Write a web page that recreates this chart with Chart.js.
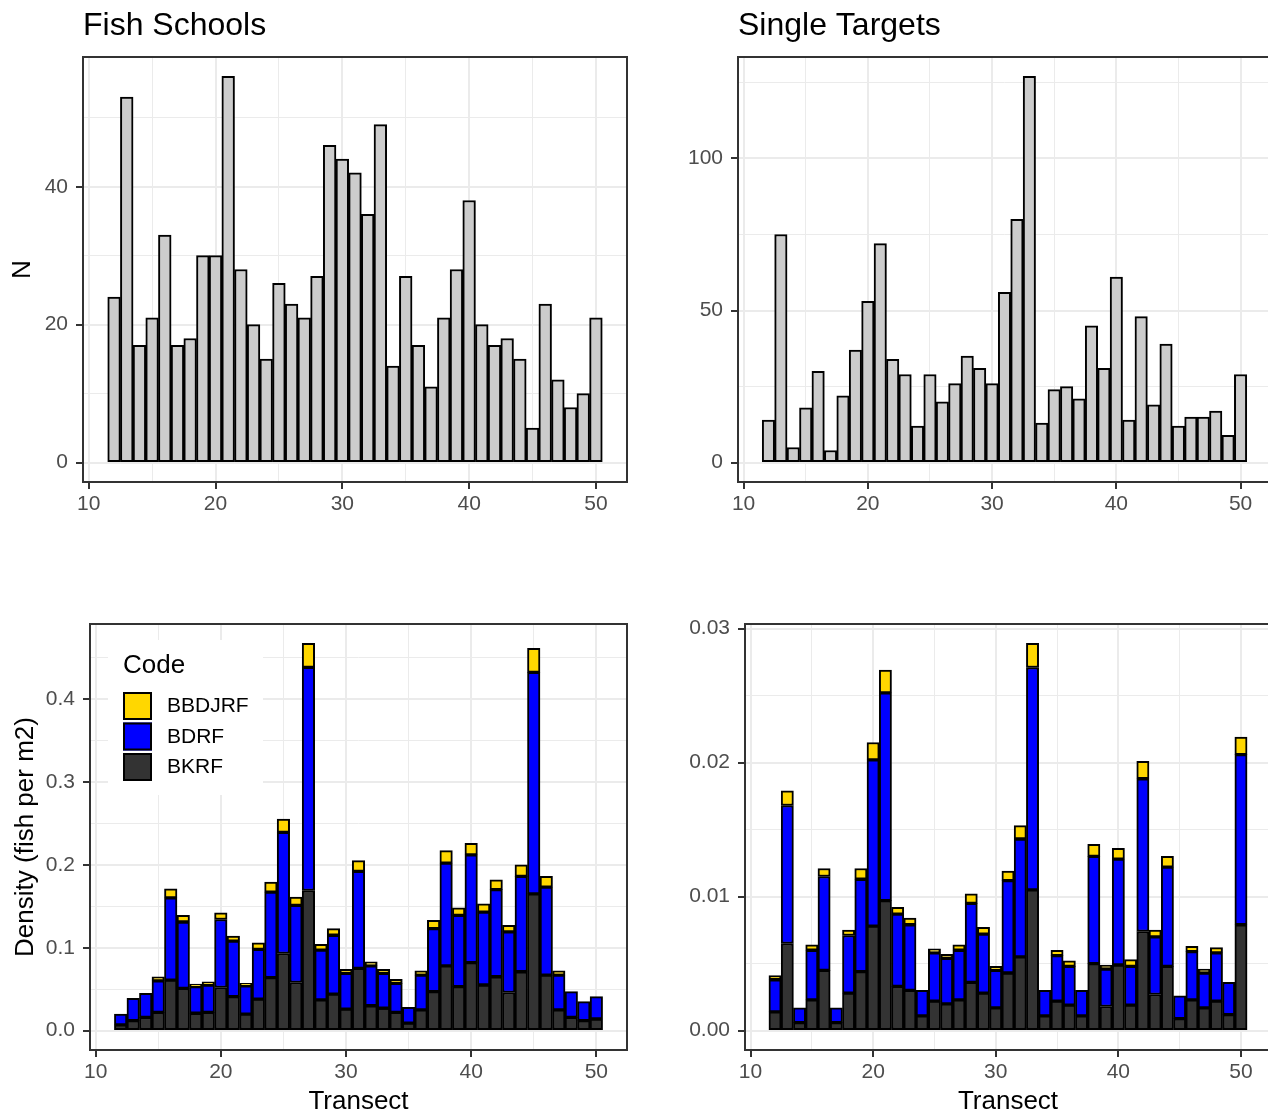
<!DOCTYPE html>
<html>
<head>
<meta charset="utf-8">
<title>Fish Schools / Single Targets</title>
<script src="https://cdn.jsdelivr.net/npm/chart.js@4.4.1/dist/chart.umd.min.js"></script>
<style>
  html, body { margin: 0; padding: 0; background: #fff; overflow: hidden; width: 1268px; height: 1113px; }
  canvas { position: absolute; }
</style>
</head>
<body>
<canvas id="schoolsN"></canvas>
<canvas id="targetsN"></canvas>
<canvas id="schoolsDen"></canvas>
<canvas id="targetsDen"></canvas>
<script>
// transect numbers on the x axis
var transects = [12,13,14,15,16,17,18,19,20,21,22,23,24,25,26,27,28,29,30,31,
                 32,33,34,35,36,37,38,39,40,41,42,43,44,45,46,47,48,49,50];

// counts (top row)
var schoolCount = [24,53,17,21,33,17,18,30,30,56,28,20,15,26,23,21,27,46,44,42,
                   36,49,14,27,17,11,21,28,38,20,17,18,15,5,23,12,8,10,21];
var targetCount = [14,75,5,18,30,4,22,37,53,72,34,29,12,29,20,26,35,31,26,56,
                   80,127,13,24,25,21,45,31,61,14,48,19,39,12,15,15,17,9,29];

// density by species code (bottom row), stacked bottom -> top
var codes = ['BKRF', 'BDRF', 'BBDJRF'];
var codeColors = ['#333333', '#0000ff', '#ffd700'];

var schoolBKRF = [0.007,0.012,0.016,0.022,0.061,0.051,0.021,0.022,0.052,0.041,0.020,0.038,0.064,0.093,0.058,0.169,0.037,0.044,0.026,0.075,
                  0.030,0.027,0.022,0.009,0.025,0.047,0.078,0.053,0.082,0.055,0.065,0.046,0.071,0.165,0.067,0.025,0.016,0.012,0.014];
var schoolBDRF = [0.013,0.027,0.029,0.038,0.099,0.080,0.032,0.033,0.082,0.067,0.034,0.060,0.103,0.146,0.093,0.269,0.060,0.071,0.043,0.117,
                  0.048,0.042,0.035,0.019,0.042,0.076,0.124,0.086,0.130,0.088,0.105,0.073,0.115,0.267,0.106,0.042,0.031,0.023,0.027];
var schoolBBDJRF = [0,0,0,0.005,0.011,0.008,0.003,0.004,0.008,0.006,0.003,0.008,0.012,0.016,0.010,0.029,0.007,0.008,0.005,0.013,
                    0.005,0.005,0.005,0,0.005,0.010,0.015,0.009,0.014,0.010,0.012,0.008,0.014,0.029,0.013,0.005,0,0,0];

var targetBKRF = [0.0014,0.0065,0.0006,0.0023,0.0045,0.0006,0.0028,0.0044,0.0078,0.0097,0.0033,0.0030,0.0011,0.0022,0.0020,0.0023,0.0036,0.0028,0.0017,0.0043,
                  0.0055,0.0105,0.0011,0.0022,0.0019,0.0011,0.0050,0.0018,0.0049,0.0019,0.0074,0.0027,0.0048,0.0009,0.0023,0.0017,0.0022,0.0012,0.0079];
var targetBDRF = [0.0024,0.0103,0.0011,0.0037,0.0070,0.0011,0.0043,0.0069,0.0124,0.0155,0.0054,0.0049,0.0019,0.0036,0.0034,0.0037,0.0059,0.0044,0.0028,0.0069,
                  0.0088,0.0166,0.0019,0.0034,0.0029,0.0019,0.0080,0.0028,0.0079,0.0029,0.0114,0.0043,0.0074,0.0017,0.0036,0.0026,0.0036,0.0024,0.0127];
var targetBBDJRF = [0.0003,0.0011,0,0.0004,0.0006,0,0.0004,0.0008,0.0013,0.0017,0.0005,0.0005,0,0.0003,0.0003,0.0004,0.0007,0.0005,0.0003,0.0007,
                    0.0010,0.0018,0,0.0004,0.0004,0,0.0009,0.0003,0.0008,0.0005,0.0013,0.0005,0.0008,0,0.0004,0.0003,0.0004,0,0.0013];

// tick values / labels
var xMajor = [10,20,30,40,50];
var xLabels = ['10','20','30','40','50'];
var xMinor = [15,25,35,45];

var schoolNTicks = [0,20,40], schoolNLabels = ['0','20','40'], schoolNMinor = [10,30,50];
var targetNTicks = [0,50,100], targetNLabels = ['0','50','100'], targetNMinor = [25,75,125];
var schoolDenTicks = [0,0.1,0.2,0.3,0.4], schoolDenLabels = ['0.0','0.1','0.2','0.3','0.4'];
var schoolDenMinor = [0.05,0.15,0.25,0.35,0.45];
var targetDenTicks = [0,0.01,0.02,0.03], targetDenLabels = ['0.00','0.01','0.02','0.03'];
var targetDenMinor = [0.005,0.015,0.025];

var FONT = '"Liberation Sans", Arial, Helvetica, sans-serif';
Chart.defaults.font.family = FONT;

// ggplot style expansion (5% each side)
var xLo = transects[0] - 0.5, xHi = transects[transects.length - 1] + 0.5;
var xPad = 0.05 * (xHi - xLo);
var BAR_EDGE = 2;

function sumAt(arrs, i) {
    var s = 0;
    arrs.forEach(function (a) { s += a[i]; });
    return s;
}

// panel frame + title (+ legend) drawn on top
var panelPlugin = {
    id: 'panelDeco',
    afterDraw: function (chart, args, opts) {
        var ctx = chart.ctx, a = chart.chartArea;
        ctx.save();
        if (opts.legend) {
            var l = a.left, t = a.top;
            ctx.fillStyle = '#ffffff';
            ctx.fillRect(l + 18, t + 16, 155, 155);
            ctx.fillStyle = '#000000';
            ctx.textBaseline = 'middle';
            ctx.textAlign = 'left';
            ctx.font = '26px ' + FONT;
            ctx.fillText(opts.legend, l + 33, t + 42);
            var ds = chart.data.datasets.slice().reverse();
            ds.forEach(function (d, k) {
                var y0 = t + 68 + k * 30.5;
                ctx.fillStyle = d.backgroundColor;
                ctx.fillRect(l + 33, y0, 29, 28);
                ctx.strokeStyle = '#000000';
                ctx.lineWidth = 2;
                ctx.strokeRect(l + 34, y0 + 1, 27, 26);
                ctx.fillStyle = '#000000';
                ctx.font = '21px ' + FONT;
                ctx.fillText(d.label, l + 77, y0 + 14.5);
            });
        }
        ctx.strokeStyle = '#333333';
        ctx.lineWidth = 2;
        ctx.strokeRect(a.left, a.top, a.right - a.left, a.bottom - a.top);
        if (opts.title) {
            ctx.fillStyle = '#000000';
            ctx.font = '32px ' + FONT;
            ctx.textAlign = 'left';
            ctx.textBaseline = 'alphabetic';
            ctx.fillText(opts.title, a.left, opts.titleY);
        }
        ctx.restore();
    }
};

function axis(major, labels, minor, lo, hi, fit, isX, title, titlePad) {
    var all = major.concat(minor).sort(function (a, b) { return a - b; });
    var isMajor = function (c) { return c.tick && major.indexOf(c.tick.value) >= 0; };
    return {
        type: 'linear',
        min: lo,
        max: hi,
        offset: false,
        afterBuildTicks: function (s) { s.ticks = all.map(function (v) { return { value: v }; }); },
        afterFit: function (s) { if (isX) { s.height = fit; } else { s.width = fit; } },
        ticks: {
            autoSkip: false, maxRotation: 0, minRotation: 0,
            padding: isX ? 3 : 8,
            color: '#4d4d4d',
            font: { size: 21 },
            callback: function (v) { var i = major.indexOf(v); return i < 0 ? '' : labels[i]; }
        },
        grid: {
            offset: false,
            color: '#ebebeb',
            lineWidth: function (c) { return isMajor(c) ? 2 : 1; },
            tickLength: 7,
            tickWidth: 2,
            tickColor: function (c) { return isMajor(c) ? '#333333' : 'rgba(0,0,0,0)'; }
        },
        border: { display: false },
        title: title ? {
            display: true, text: title, color: '#000000',
            font: { size: 26 }, padding: { top: titlePad, bottom: 0 }
        } : { display: false }
    };
}

// box: panel rect on page, yW = y axis width, xH = x axis height, tPad = space above panel
function makePanel(id, box, datasets, yTicks, yLabels, yMinor, yMax, xTitle, yTitle, yTitlePad, deco) {
    var cv = document.getElementById(id);
    var left = box.L - box.yW, top = box.T - box.tPad;
    var w = box.yW + (box.R - box.L) + 6, h = box.tPad + (box.B - box.T) + box.xH;
    cv.style.left = left + 'px';
    cv.style.top = top + 'px';
    cv.width = w;
    cv.height = h;
    return new Chart(cv, {
        type: 'bar',
        data: { datasets: datasets },
        options: {
            responsive: false,
            animation: false,
            layout: { padding: { top: box.tPad, right: 6, left: 0, bottom: 0 } },
            plugins: { legend: { display: false }, tooltip: { enabled: false }, panelDeco: deco },
            scales: {
                x: axis(xMajor, xLabels, xMinor, xLo - xPad, xHi + xPad, box.xH, true, xTitle, 0),
                y: axis(yTicks, yLabels, yMinor, -0.05 * yMax, 1.05 * yMax, box.yW, false, yTitle, yTitlePad)
            }
        },
        plugins: [panelPlugin]
    });
}

function countSet(values) {
    return [{
        data: transects.map(function (t, i) { return { x: t, y: values[i] }; }),
        backgroundColor: '#cccccc',
        borderColor: '#000000',
        borderWidth: BAR_EDGE,
        borderSkipped: false,
        barPercentage: 1,
        categoryPercentage: 1
    }];
}

// floating bars built from the stacked components
function stackSets(parts) {
    return parts.map(function (vals, k) {
        return {
            label: codes[k],
            data: transects.map(function (t, i) {
                var base = sumAt(parts.slice(0, k), i);
                return { x: t, y: [base, base + vals[i]] };
            }),
            backgroundColor: codeColors[k],
            borderColor: '#000000',
            borderWidth: BAR_EDGE,
            borderSkipped: false,
            grouped: false,
            barPercentage: 1,
            categoryPercentage: 1
        };
    });
}

function maxTotal(parts) {
    var m = 0;
    transects.forEach(function (t, i) { m = Math.max(m, sumAt(parts, i)); });
    return m;
}

var schoolParts = [schoolBKRF, schoolBDRF, schoolBBDJRF];
var targetParts = [targetBKRF, targetBDRF, targetBBDJRF];

makePanel('schoolsN', { L: 83, R: 627, T: 57, B: 482, yW: 83, xH: 40, tPad: 57 },
    countSet(schoolCount), schoolNTicks, schoolNLabels, schoolNMinor, Math.max.apply(null, schoolCount),
    null, 'N', 7, { title: 'Fish Schools', titleY: 35 });

makePanel('targetsN', { L: 738, R: 1271, T: 57, B: 482, yW: 80, xH: 40, tPad: 57 },
    countSet(targetCount), targetNTicks, targetNLabels, targetNMinor, Math.max.apply(null, targetCount),
    null, null, 0, { title: 'Single Targets', titleY: 35 });

makePanel('schoolsDen', { L: 90, R: 627, T: 624, B: 1050, yW: 90, xH: 67, tPad: 28 },
    stackSets(schoolParts), schoolDenTicks, schoolDenLabels, schoolDenMinor, maxTotal(schoolParts),
    'Transect', 'Density (fish per m2)', 10, { legend: 'Code' });

makePanel('targetsDen', { L: 745, R: 1271, T: 624, B: 1050, yW: 80, xH: 67, tPad: 28 },
    stackSets(targetParts), targetDenTicks, targetDenLabels, targetDenMinor, maxTotal(targetParts),
    'Transect', null, 0, {});
</script>
</body>
</html>
